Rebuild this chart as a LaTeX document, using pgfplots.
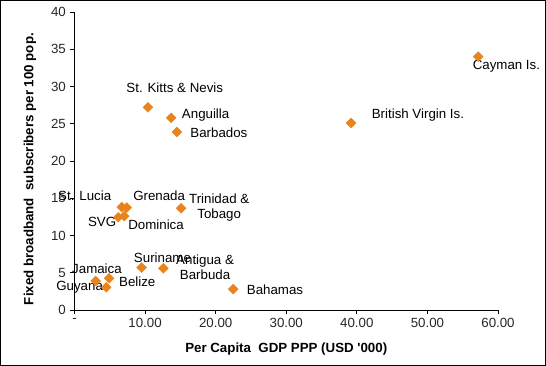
\documentclass[border=0pt]{standalone}
\usepackage{pgfplots}
\pgfplotsset{compat=1.18}
\usepackage{fontspec}
\setmainfont{Liberation Sans}
\definecolor{mk}{RGB}{232,132,30}
\begin{document}
\fontsize{13.3}{15}\selectfont
\begin{tikzpicture}
\useasboundingbox (-74.5pt,-56pt) rectangle (471.5pt,310pt);
\draw[line width=1.3pt] (-73.85pt,-55.35pt) rectangle (470.85pt,309.35pt);
\begin{axis}[
  at={(0,0)}, anchor=south west,
  scale only axis, width=423.5pt, height=298pt,
  xmin=0, xmax=60, ymin=0, ymax=40,
  axis lines=left, axis line style={-, black, line width=0.8pt},
  tick align=outside, major tick length=4pt,
  tick style={black, line width=0.8pt},
  xtick={0,10,...,60},
  xticklabels={-,10.00,20.00,30.00,40.00,50.00,60.00},
  ytick={0,5,...,40},
  /pgf/number format/assume math mode=true,
  tick label style={font=\fontsize{13.3}{15}\selectfont, text=black!85},
  xlabel={Per Capita\ \ GDP PPP (USD \textquotesingle 000)},
  ylabel={Fixed broadband\ \ subscribers per 100 pop.},
  label style={font=\fontsize{13.3}{15}\selectfont\bfseries},
  xlabel style={at={(axis description cs:0.5,-0.131)}, anchor=center},
  ylabel style={at={(axis description cs:-0.1051,0.473)}, anchor=center},
  clip=false,
]
\addplot[only marks, mark=square*, mark size=3.5pt,
  mark options={rotate=45, fill=mk, draw=mk}] coordinates {
  (10.4,27.2) (13.7,25.8) (14.5,23.9) (57.2,34.0) (39.2,25.1)
  (15.1,13.65) (6.7,13.8) (7.4,13.75) (6.2,12.45) (7.05,12.6)
  (9.5,5.7) (12.6,5.6) (3.0,3.9) (4.9,4.25) (4.5,3.05) (22.5,2.8)
};
\node[anchor=center] at (axis cs:14.2,29.8) {St. Kitts \& Nevis};
\node[anchor=west, inner sep=0pt] at (axis cs:15.2,26.2) {Anguilla};
\node[anchor=west, inner sep=0pt] at (axis cs:16.4,23.8) {Barbados};
\node[anchor=west, inner sep=0pt] at (axis cs:56.4,32.75) {Cayman Is.};
\node[anchor=west, inner sep=0pt] at (axis cs:42.1,26.2) {British Virgin Is.};
\node[anchor=center, align=center, inner sep=0pt] at (axis cs:20.5,13.8) {Trinidad \&\\Tobago};
\node[anchor=west, inner sep=0pt] at (axis cs:-2.34,15.4) {St. Lucia};
\node[anchor=west, inner sep=0pt] at (axis cs:8.3,15.4) {Grenada};
\node[anchor=west, inner sep=0pt] at (axis cs:1.9,11.8) {SVG};
\node[anchor=west, inner sep=0pt] at (axis cs:7.6,11.4) {Dominica};
\node[anchor=west, inner sep=0pt] at (axis cs:8.4,7.0) {Suriname};
\node[anchor=center, align=center, inner sep=0pt] at (axis cs:18.5,5.8) {Antigua \&\\Barbuda};
\node[anchor=west, inner sep=0pt] at (axis cs:-0.35,5.6) {Jamaica};
\node[anchor=west, inner sep=0pt] at (axis cs:6.3,3.75) {Belize};
\node[anchor=west, inner sep=0pt] at (axis cs:-2.6,3.1) {Guyana};
\node[anchor=west, inner sep=0pt] at (axis cs:24.4,2.7) {Bahamas};
\end{axis}
\end{tikzpicture}
\end{document}
